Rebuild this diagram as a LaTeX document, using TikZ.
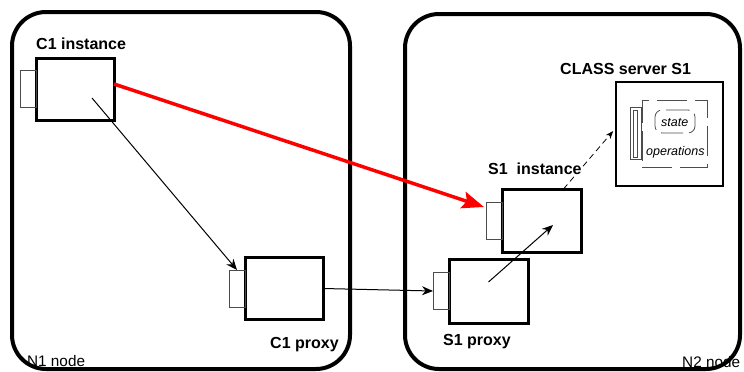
\documentclass[tikz,border=0pt]{standalone}
\usepackage{fontspec}
\setmainfont{Liberation Sans}
\usetikzlibrary{arrows.meta, positioning}

\begin{document}
\begin{tikzpicture}[x = 1pt, y = -1pt,
    nodo/.style = {draw, line width=4pt, rounded corners=34pt, inner sep=0pt, outer sep=0pt},
    istanza/.style = {draw, line width=3pt, minimum width=78pt, minimum height=62pt, inner sep=0pt, outer sep=0pt},
    porta/.style = {draw=black!70, line width=0.9pt, minimum width=16pt, minimum height=37pt, inner sep=0pt, outer sep=0pt},
    etichetta/.style = {font=\fontsize{16}{18}\selectfont\bfseries, inner sep=0pt, anchor=base west},
    testo/.style = {font=\fontsize{15.3}{17}\selectfont, inner sep=0pt, anchor=base west},
    corsivo/.style = {font=\fontsize{12.5}{14}\selectfont\itshape, inner sep=0pt, anchor=base west},
    freccia/.style = {line width=1pt, -{Stealth[length=11pt, width=9pt]}},
    rossa/.style = {draw=red, line width=3.5pt, -{Stealth[length=22pt, width=17pt, inset=4pt]}}
]
    % Parametri
    \pgfmathsetmacro{\bw}{78}
    \pgfmathsetmacro{\bh}{62}
    \useasboundingbox (0,0) rectangle (744,372);

    % Nodi N1 e N2
    \node[nodo, minimum width=338pt, minimum height=357pt] (n1) at (181,190.5) {};
    \node[nodo, minimum width=335pt, minimum height=355pt] (n2) at (572.5,191.5) {};

    % Istanze e proxy
    \node[istanza] (c1i) at (75,89) {};
    \node[porta, left=0pt of c1i] (c1ip) {};
    \node[istanza] (c1p) at (284,288.5) {};
    \node[porta, left=0pt of c1p] (c1pp) {};
    \node[istanza, minimum width=79pt, minimum height=63pt] (s1i) at (541.5,220.5) {};
    \node[porta, left=0pt of s1i] (s1ip) {};
    \node[istanza, minimum width=79pt, minimum height=64pt] (s1p) at (488.5,291) {};
    \node[porta, left=0pt of s1p] (s1pp) {};

    % Classe server S1
    \node[draw, line width=1.6pt, minimum width=107pt, minimum height=104pt, inner sep=0pt] (cls) at (669.5,134) {};
    \node[draw=black!70, line width=1pt, dash pattern=on 30pt off 8pt, minimum width=65pt, minimum height=67pt, inner sep=0pt] (clsint) at (674.5,133.5) {};
    \node[draw=black!70, line width=0.8pt, fill=white, minimum width=11pt, minimum height=52pt, inner sep=0pt] (clsp) at (635.5,133) {};
    \node[draw=black!70, line width=0.8pt, minimum width=4pt, minimum height=47pt, inner sep=0pt] (clspi) at (635,133.5) {};
    \node[draw=black!70, line width=0.8pt, rounded corners=7pt, dash pattern=on 22pt off 6pt, minimum width=40pt, minimum height=23pt, inner sep=0pt] (stato) at (675,121.5) {};

    % Frecce
    \draw[freccia] ([shift={(17,9)}]c1i.center) -- (c1pp.north);
    \draw[freccia] (c1p.east) -- (s1pp.west);
    \draw[freccia] ([yshift=9pt]s1p.center) -- ([shift={(11.5,4.5)}]s1i.center);
    \draw[line width=0.8pt, dash pattern=on 6pt off 4pt, -{Stealth[length=8pt, width=6pt]}] ([xshift=22pt]s1i.north) -- ([shift={(-2,-3)}]cls.west);
    \draw[rossa] ([yshift=5pt]c1i.east) -- ([shift={(-2,5)}]s1ip.north west);

    % Etichette
    \node[etichetta] (lc1i) at (36,49) {C1 instance};
    \node[etichetta] (lc1p) at (270,348) {C1 proxy};
    \node[etichetta, fill=white, inner ysep=1pt] (ls1i) at (488,174) {S1\ \ instance};
    \node[etichetta] (ls1p) at (443,345.5) {S1 proxy};
    \node[etichetta] (lcls) at (560,74) {CLASS server S1};
    \node[testo] (ln1) at (27,366.5) {N1 node};
    \node[testo] (ln2) at (682,367) {N2 node};
    \node[corsivo] (lstato) at (661,126) {state};
    \node[corsivo] (lop) at (646,155) {operations};
\end{tikzpicture}
\end{document}
